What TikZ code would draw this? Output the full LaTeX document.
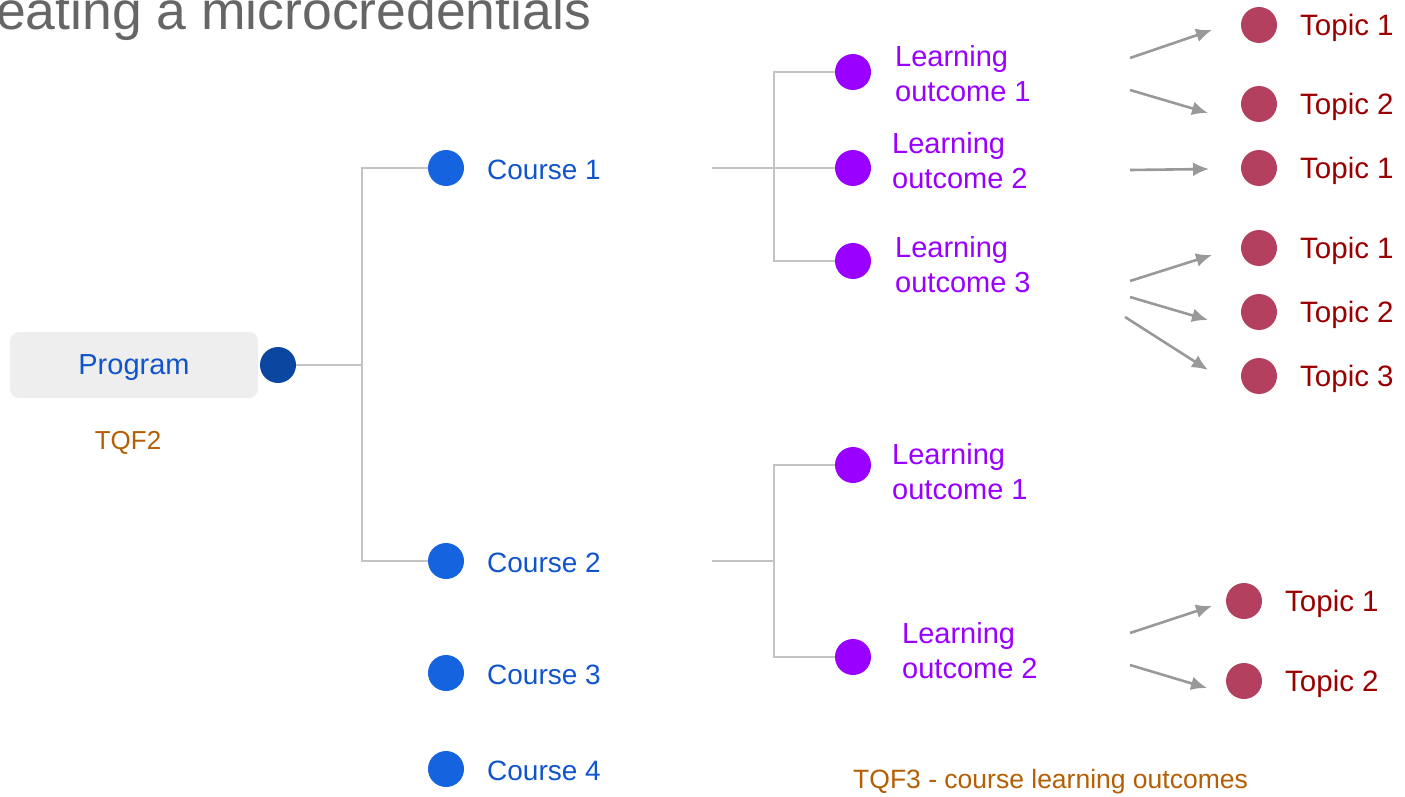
\documentclass[tikz,border=0pt]{standalone}
\usepackage{fontspec}
\setmainfont{Liberation Sans}
\usetikzlibrary{arrows.meta}
\definecolor{titlegray}{HTML}{666666}
\definecolor{progblue}{HTML}{0B47A1}
\definecolor{dotblue}{HTML}{1563DF}
\definecolor{textblue}{HTML}{1155CC}
\definecolor{lopurple}{HTML}{9900FF}
\definecolor{topicdot}{HTML}{B4405F}
\definecolor{topictext}{HTML}{990000}
\definecolor{tqf}{HTML}{B45F06}
\definecolor{boxgray}{HTML}{EEEEEE}
\definecolor{linegray}{HTML}{C3C3C3}
\definecolor{arrgray}{HTML}{999999}
\begin{document}
\begin{tikzpicture}[x=1pt,y=-1pt,
  dot/.style={circle,inner sep=0pt,minimum size=36pt},
  lbl/.style={anchor=west,inner sep=0pt,align=left,font=\fontsize{28}{35}\selectfont},
  lolbl/.style={lbl,text=lopurple,font=\fontsize{29}{35}\selectfont},
  toplbl/.style={lbl,text=topictext,font=\fontsize{29.5}{35}\selectfont},
  conn/.style={draw=linegray,line width=2pt},
  arr/.style={draw=arrgray,line width=2.6pt,-{Latex[length=16pt,width=14pt]}}]
\useasboundingbox (0,0) rectangle (1405,797);

\node[anchor=base west,inner sep=0pt,text=titlegray,font=\fontsize{53.5}{54}\selectfont] (title) at (-4,30) {eating a microcredentials};

\node[fill=boxgray,rounded corners=9pt,minimum width=248pt,minimum height=66pt,text depth=0pt,text=textblue,font=\fontsize{29}{30}\selectfont] (box) at (134,365) {Program};
\node[dot,fill=progblue] (prog) at (278,365) {};
\node[text=tqf,font=\fontsize{26}{28}\selectfont] (tqf2) at (128,443) {TQF2};

\node[dot,fill=dotblue] (c1) at (446,168) {};
\node[dot,fill=dotblue] (c2) at (446,561) {};
\node[dot,fill=dotblue] (c3) at (446,673) {};
\node[dot,fill=dotblue] (c4) at (446,769) {};
\node[lbl,text=textblue] (c1l) at (487,170) {Course 1};
\node[lbl,text=textblue] (c2l) at (487,563) {Course 2};
\node[lbl,text=textblue] (c3l) at (487,675) {Course 3};
\node[lbl,text=textblue] (c4l) at (487,771) {Course 4};

\coordinate (split) at (362,365);
\draw[conn] (prog) -- (split) |- (c1);
\draw[conn] (split) |- (c2);

\node[dot,fill=lopurple] (lo11) at (853,72) {};
\node[dot,fill=lopurple] (lo12) at (853,168) {};
\node[dot,fill=lopurple] (lo13) at (853,261) {};
\node[dot,fill=lopurple] (lo21) at (853,465) {};
\node[dot,fill=lopurple] (lo22) at (853,657) {};
\node[lolbl] (lo11l) at (895,74) {Learning\\outcome 1};
\node[lolbl] (lo12l) at (892,161) {Learning\\outcome 2};
\node[lolbl] (lo13l) at (895,265) {Learning\\outcome 3};
\node[lolbl] (lo21l) at (892,472) {Learning\\outcome 1};
\node[lolbl] (lo22l) at (902,651) {Learning\\outcome 2};

\coordinate (c1end) at (712,168);
\coordinate (k1) at (774,168);
\draw[conn] (c1end) -- (k1);
\draw[conn] (k1) |- (lo11);
\draw[conn] (k1) |- (lo12);
\draw[conn] (k1) |- (lo13);
\coordinate (c2end) at (712,561);
\coordinate (k2) at (774,561);
\draw[conn] (c2end) -- (k2);
\draw[conn] (k2) |- (lo21);
\draw[conn] (k2) |- (lo22);

\node[dot,fill=topicdot] (t1) at (1259,25) {};
\node[dot,fill=topicdot] (t2) at (1259,104) {};
\node[dot,fill=topicdot] (t3) at (1259,168) {};
\node[dot,fill=topicdot] (t4) at (1259,248) {};
\node[dot,fill=topicdot] (t5) at (1259,312) {};
\node[dot,fill=topicdot] (t6) at (1259,376) {};
\node[dot,fill=topicdot] (t7) at (1244,601) {};
\node[dot,fill=topicdot] (t8) at (1244,681) {};
\node[toplbl] (t1l) at (1300,28) {Topic 1};
\node[toplbl] (t2l) at (1300,107) {Topic 2};
\node[toplbl] (t3l) at (1300,171) {Topic 1};
\node[toplbl] (t4l) at (1300,251) {Topic 1};
\node[toplbl] (t5l) at (1300,315) {Topic 2};
\node[toplbl] (t6l) at (1300,379) {Topic 3};
\node[toplbl] (t7l) at (1285,604) {Topic 1};
\node[toplbl] (t8l) at (1285,684) {Topic 2};

\coordinate (a1) at (1130,58);   \coordinate (b1) at (1212,30);
\coordinate (a2) at (1130,90);   \coordinate (b2) at (1208,113);
\coordinate (a3) at (1130,170);  \coordinate (b3) at (1209,169);
\coordinate (a4) at (1130,281);  \coordinate (b4) at (1212,255);
\coordinate (a5) at (1130,297);  \coordinate (b5) at (1208,320);
\coordinate (a6) at (1125,317);  \coordinate (b6) at (1208,370);
\coordinate (a7) at (1130,633);  \coordinate (b7) at (1212,606);
\coordinate (a8) at (1130,665);  \coordinate (b8) at (1207,688);
\draw[arr] (a1) -- (b1);
\draw[arr] (a2) -- (b2);
\draw[arr] (a3) -- (b3);
\draw[arr] (a4) -- (b4);
\draw[arr] (a5) -- (b5);
\draw[arr] (a6) -- (b6);
\draw[arr] (a7) -- (b7);
\draw[arr] (a8) -- (b8);

\node[anchor=west,inner sep=0pt,text=tqf,font=\fontsize{26.5}{28}\selectfont] (tqf3) at (853,782) {TQF3 - course learning outcomes};
\end{tikzpicture}
\end{document}
